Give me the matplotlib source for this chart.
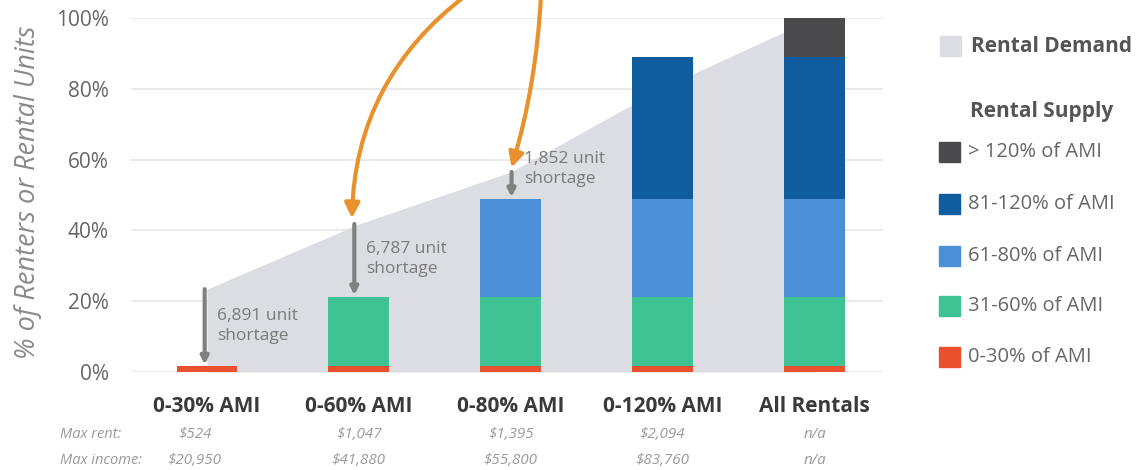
import numpy as np
import matplotlib
matplotlib.use("Agg")
import matplotlib.pyplot as plt
import matplotlib.transforms as mtransforms
from matplotlib.patches import Rectangle

plt.rcParams['font.family'] = ['Open Sans', 'DejaVu Sans']

# categories and data (% of renters / rental units)
categories = ["0-30% AMI", "0-60% AMI", "0-80% AMI", "0-120% AMI", "All Rentals"]
max_rent = ["$524", "$1,047", "$1,395", "$2,094", "n/a"]
max_income = ["$20,950", "$41,880", "$55,800", "$83,760", "n/a"]

demand = [23.4, 41.8, 56.5, 80.3, 100.0]

supply_0_30 = [1.6, 1.6, 1.6, 1.6, 1.6]
supply_31_60 = [0, 19.6, 19.6, 19.6, 19.6]
supply_61_80 = [0, 0, 27.7, 27.7, 27.7]
supply_81_120 = [0, 0, 0, 40.1, 40.1]
supply_over_120 = [0, 0, 0, 0, 11.0]

supply_labels = ["> 120% of AMI", "81-120% of AMI", "61-80% of AMI", "31-60% of AMI", "0-30% of AMI"]
supply_colors = ["#4a4a4c", "#0f5c9e", "#4b8fd6", "#3fc294", "#e9512e"]
demand_color = "#dcdde2"

shortage_labels = ["6,891 unit\nshortage", "6,787 unit\nshortage", "1,852 unit\nshortage"]

fig = plt.figure(figsize=(11.43, 4.7), dpi=100)
ax = fig.add_axes([131 / 1143, 1 - 372 / 470, 752 / 1143, 354 / 470])

x = np.arange(len(categories))

# gridlines
for v in range(0, 101, 20):
    ax.axhline(v, color="#ebebeb", lw=1.5, zorder=0)

# rental demand area
ax.fill_between(x, 0, demand, color=demand_color, lw=0, zorder=1)

# stacked supply bars (bottom to top)
segs = [supply_0_30, supply_31_60, supply_61_80, supply_81_120, supply_over_120]
seg_colors = supply_colors[::-1]
bottom = np.zeros(len(categories))
for s, c in zip(segs, seg_colors):
    ax.bar(x, s, bottom=bottom, width=0.4, color=c, lw=0, zorder=2)
    bottom += np.array(s)

# shortage arrows
short_idx = [0, 1, 2]
x_off = [-0.015, -0.03, 0.005]
for i, lab, dx in zip(short_idx, shortage_labels, x_off):
    top_s = supply_0_30[i] + supply_31_60[i] + supply_61_80[i]
    ax.annotate("", xy=(i + dx, top_s + 0.5), xytext=(i + dx, demand[i]),
                arrowprops=dict(arrowstyle="-|>", color="#808080", lw=3,
                                mutation_scale=11, shrinkA=0, shrinkB=0),
                zorder=3)
    ty = (top_s + demand[i]) / 2 + 0.5 if i < 2 else demand[i] + 0.8
    ax.text(i + dx + 0.08, ty, lab, ha="left", va="center", fontsize=12.5,
            color="#7a7a7a", linespacing=1.3, zorder=3)

# orange highlight arrows from above
orange = "#e8912d"
ax.annotate("", xy=(1 - 0.046, demand[1] + 1.6), xytext=(466 / 1143, 1.01),
            textcoords="figure fraction",
            arrowprops=dict(arrowstyle="-|>", color=orange, lw=3, mutation_scale=22,
                            shrinkA=0, shrinkB=0, connectionstyle="arc3,rad=0.24"),
            annotation_clip=False, zorder=5)
ax.annotate("", xy=(2 + 0.005, demand[2] + 1.2), xytext=(541 / 1143, 1.01),
            textcoords="figure fraction",
            arrowprops=dict(arrowstyle="-|>", color=orange, lw=3, mutation_scale=22,
                            shrinkA=0, shrinkB=0, connectionstyle="arc3,rad=-0.06"),
            annotation_clip=False, zorder=5)

ax.set_xlim(-0.5, 4.45)
ax.set_ylim(0, 100)
ax.set_yticks(range(0, 101, 20))
ax.set_yticklabels([f"{v}%" for v in range(0, 101, 20)], fontsize=15, color="#666666")
ax.tick_params(axis="y", length=0, pad=16)
ax.set_xticks([])
for sp in ax.spines.values():
    sp.set_visible(False)

# category labels + max rent / income rows
trans = mtransforms.blended_transform_factory(ax.transData, fig.transFigure)
for i, cat in enumerate(categories):
    ax.text(i, 1 - 407 / 470, cat, transform=trans, ha="center", va="center",
            fontsize=15, fontweight="bold", color="#3a3a3a")
    vx = i - 0.08 if i == 0 else i
    ax.text(vx, 1 - 434 / 470, max_rent[i], transform=trans, ha="center", va="center",
            fontsize=11, style="italic", color="#9a9a9a")
    ax.text(vx, 1 - 460 / 470, max_income[i], transform=trans, ha="center", va="center",
            fontsize=11, style="italic", color="#9a9a9a")
fig.text(60 / 1143, 1 - 434 / 470, "Max rent:", ha="left", va="center",
         fontsize=10.5, style="italic", color="#9a9a9a")
fig.text(60 / 1143, 1 - 460 / 470, "Max income:", ha="left", va="center",
         fontsize=10.5, style="italic", color="#9a9a9a")

# y-axis label
fig.text(28 / 1143, 1 - 192 / 470, "% of Renters or Rental Units", rotation=90,
         ha="center", va="center", fontsize=19.5, style="italic", color="#8a8a8a")

# legend
sq_w, sq_h = 21 / 1143, 20 / 470
fig.patches.append(Rectangle((940 / 1143, 1 - 56 / 470), sq_w, sq_h,
                             transform=fig.transFigure, color=demand_color))
fig.text(971 / 1143, 1 - 46 / 470, "Rental Demand", ha="left", va="center",
         fontsize=15, fontweight="bold", color="#555555")
fig.text(970 / 1143, 1 - 111 / 470, "Rental Supply", ha="left", va="center",
         fontsize=15, fontweight="bold", color="#555555")
leg_y = [152, 204, 256, 306, 357]
for lab, c, yy in zip(supply_labels, supply_colors, leg_y):
    fig.patches.append(Rectangle((939 / 1143, 1 - (yy + 10) / 470), sq_w, sq_h,
                                 transform=fig.transFigure, color=c))
    fig.text(968 / 1143, 1 - yy / 470, lab, ha="left", va="center",
             fontsize=14.5, color="#666666")

fig.savefig("out.png", dpi=100)
